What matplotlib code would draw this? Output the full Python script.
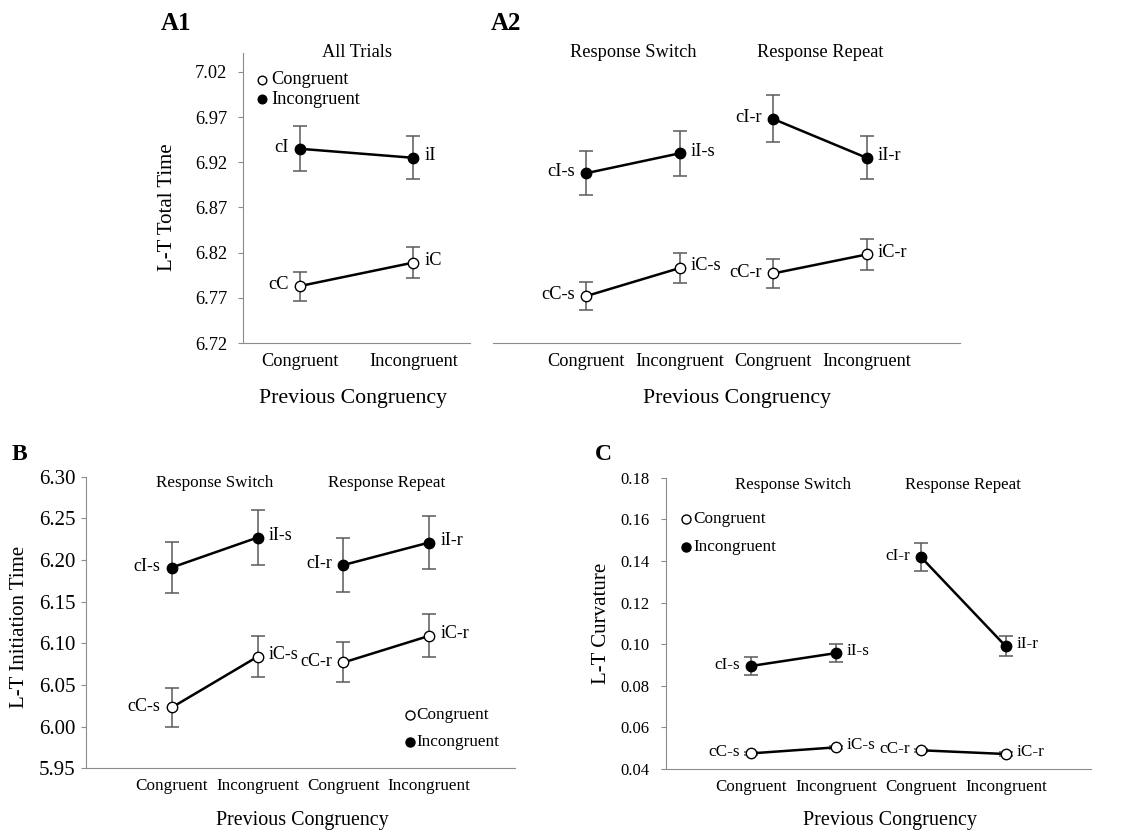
import matplotlib
matplotlib.use('Agg')
import matplotlib.pyplot as plt
from matplotlib.lines import Line2D

W, H = 1140, 833
plt.rcParams['font.family'] = ['Liberation Serif', 'DejaVu Serif']

categories = ['Congruent', 'Incongruent']

# A1 - all trials, L-T total time
a1_con = [6.783, 6.809]
a1_con_err = [0.016, 0.017]
a1_inc = [6.935, 6.925]
a1_inc_err = [0.025, 0.024]
a1_con_lab = ['cC', 'iC']
a1_inc_lab = ['cI', 'iI']

# A2 - switch / repeat, L-T total time
a2_sw_con = [6.772, 6.803]
a2_sw_con_err = [0.016, 0.017]
a2_rp_con = [6.797, 6.818]
a2_rp_con_err = [0.016, 0.017]
a2_sw_inc = [6.908, 6.930]
a2_sw_inc_err = [0.024, 0.025]
a2_rp_inc = [6.968, 6.925]
a2_rp_inc_err = [0.026, 0.024]

# B - L-T initiation time
b_sw_con = [6.023, 6.084]
b_sw_con_err = [0.023, 0.025]
b_rp_con = [6.077, 6.109]
b_rp_con_err = [0.024, 0.026]
b_sw_inc = [6.191, 6.227]
b_sw_inc_err = [0.031, 0.033]
b_rp_inc = [6.194, 6.221]
b_rp_inc_err = [0.032, 0.032]

# C - L-T curvature
c_sw_con = [0.0475, 0.0504]
c_sw_con_err = [0.0008, 0.0008]
c_rp_con = [0.0490, 0.0472]
c_rp_con_err = [0.0008, 0.0008]
c_sw_inc = [0.0895, 0.0957]
c_sw_inc_err = [0.0042, 0.0044]
c_rp_inc = [0.1419, 0.0989]
c_rp_inc_err = [0.0067, 0.0048]

sw_con_lab = ['cC-s', 'iC-s']
sw_inc_lab = ['cI-s', 'iI-s']
rp_con_lab = ['cC-r', 'iC-r']
rp_inc_lab = ['cI-r', 'iI-r']

a_yticks = [6.72, 6.77, 6.82, 6.87, 6.92, 6.97, 7.02]
b_yticks = [5.95, 6.00, 6.05, 6.10, 6.15, 6.20, 6.25, 6.30]
c_yticks = [0.04, 0.06, 0.08, 0.10, 0.12, 0.14, 0.16, 0.18]

SPINE = '#8c8c8c'

fig = plt.figure(figsize=(W / 100, H / 100), dpi=100)


def axes_px(left, top, right, bottom):
    return fig.add_axes([left / W, 1 - bottom / H, (right - left) / W, (bottom - top) / H])


def fig_xy(x, y):
    return x / W, 1 - y / H


def draw_pair(ax, xs, ys, errs, labels, filled, fs):
    ax.errorbar(xs, ys, yerr=errs, fmt='none', ecolor='#5a5a5a', elinewidth=1.1,
                capsize=5, capthick=1.1, zorder=2, clip_on=False)
    ax.plot(xs, ys, color='black', lw=1.8, marker='o', ms=7.5,
            mfc='black' if filled else 'white', mec='black', mew=1.0, zorder=3, clip_on=False)
    ax.annotate(labels[0], (xs[0], ys[0]), xytext=(-8, 1), textcoords='offset points',
                ha='right', va='center', fontsize=fs)
    ax.annotate(labels[1], (xs[1], ys[1]), xytext=(8, 1.5), textcoords='offset points',
                ha='left', va='center', fontsize=fs)


def style_axes(ax, yticks, ylim, xlim, xlabels, xfs, yfs, ypad, show_y=True):
    ax.set_xlim(xlim)
    ax.set_ylim(ylim)
    ax.set_xticks(range(len(xlabels)))
    ax.set_xticklabels(xlabels, fontsize=xfs)
    ax.tick_params(axis='x', length=0, pad=7)
    for s in ['top', 'right']:
        ax.spines[s].set_visible(False)
    ax.spines['bottom'].set_color(SPINE)
    ax.spines['left'].set_color(SPINE)
    if show_y:
        ax.set_yticks(yticks)
        ax.set_yticklabels(['{:.2f}'.format(v) for v in yticks], fontsize=yfs)
        ax.tick_params(axis='y', length=3.5, color=SPINE, pad=ypad)
    else:
        ax.spines['left'].set_visible(False)
        ax.set_yticks([])
    ax.patch.set_alpha(0)


def draw_key(x, y, dy, fs, ms, tx):
    for i, (name, face) in enumerate([('Congruent', 'white'), ('Incongruent', 'black')]):
        px, py = fig_xy(x, y + i * dy)
        fig.add_artist(Line2D([px], [py], marker='o', ms=ms, mfc=face, mec='black',
                              mew=1.0, ls='none', transform=fig.transFigure))
        fig.text(tx / W, py, name, ha='left', va='center', fontsize=fs)


# ---- A1
ax1 = axes_px(243, 53, 470, 343)
style_axes(ax1, a_yticks, (6.72, 7.041), (-0.5, 1.5), categories, 13.2, 13.2, 8)
draw_pair(ax1, [0, 1], a1_con, a1_con_err, a1_con_lab, False, 13.2)
draw_pair(ax1, [0, 1], a1_inc, a1_inc_err, a1_inc_lab, True, 13.2)
ax1.text(0.5, 1.0, 'All Trials', transform=ax1.get_xaxis_transform(),
         ha='center', va='center', fontsize=13.2)
draw_key(262, 80, 19, 13.2, 6.2, 271)

# ---- A2
ax2 = axes_px(493, 53, 960, 343)
style_axes(ax2, a_yticks, (6.72, 7.041), (-1, 4), categories * 2, 13.2, 13.2, 8, show_y=False)
draw_pair(ax2, [0, 1], a2_sw_con, a2_sw_con_err, sw_con_lab, False, 13.2)
draw_pair(ax2, [2, 3], a2_rp_con, a2_rp_con_err, rp_con_lab, False, 13.2)
draw_pair(ax2, [0, 1], a2_sw_inc, a2_sw_inc_err, sw_inc_lab, True, 13.2)
draw_pair(ax2, [2, 3], a2_rp_inc, a2_rp_inc_err, rp_inc_lab, True, 13.2)
ax2.text(0.5, 1.0, 'Response Switch', transform=ax2.get_xaxis_transform(),
         ha='center', va='center', fontsize=13.2)
ax2.text(2.5, 1.0, 'Response Repeat', transform=ax2.get_xaxis_transform(),
         ha='center', va='center', fontsize=13.2)

# ---- B
ax3 = axes_px(86, 476.7, 515, 768.3)
style_axes(ax3, b_yticks, (5.95, 6.30), (-1, 4), categories * 2, 12.3, 15, 4)
draw_pair(ax3, [0, 1], b_sw_con, b_sw_con_err, sw_con_lab, False, 13)
draw_pair(ax3, [2, 3], b_rp_con, b_rp_con_err, rp_con_lab, False, 13)
draw_pair(ax3, [0, 1], b_sw_inc, b_sw_inc_err, sw_inc_lab, True, 13)
draw_pair(ax3, [2, 3], b_rp_inc, b_rp_inc_err, rp_inc_lab, True, 13)
ax3.text(0.5, 0.978, 'Response Switch', transform=ax3.get_xaxis_transform(),
         ha='center', va='center', fontsize=12.3)
ax3.text(2.5, 0.978, 'Response Repeat', transform=ax3.get_xaxis_transform(),
         ha='center', va='center', fontsize=12.3)
draw_key(410, 715, 26.7, 12.3, 6.5, 416)

# ---- C
ax4 = axes_px(665.7, 477.7, 1091, 769)
style_axes(ax4, c_yticks, (0.04, 0.18), (-1, 4), categories * 2, 12.2, 12, 8)
draw_pair(ax4, [0, 1], c_sw_con, c_sw_con_err, sw_con_lab, False, 12.3)
draw_pair(ax4, [2, 3], c_rp_con, c_rp_con_err, rp_con_lab, False, 12.3)
draw_pair(ax4, [0, 1], c_sw_inc, c_sw_inc_err, sw_inc_lab, True, 12.3)
draw_pair(ax4, [2, 3], c_rp_inc, c_rp_inc_err, rp_inc_lab, True, 12.3)
ax4.text(0.5, 0.975, 'Response Switch', transform=ax4.get_xaxis_transform(),
         ha='center', va='center', fontsize=12.2)
ax4.text(2.5, 0.975, 'Response Repeat', transform=ax4.get_xaxis_transform(),
         ha='center', va='center', fontsize=12.2)
draw_key(685.7, 519, 28, 12.3, 6.5, 693)

# ---- figure-level labels
fig.text(*fig_xy(161, 23), 'A1', fontsize=18, fontweight='bold', ha='left', va='center')
fig.text(*fig_xy(491, 23), 'A2', fontsize=18, fontweight='bold', ha='left', va='center')
fig.text(*fig_xy(12, 455), 'B', fontsize=17, fontweight='bold', ha='left', va='center')
fig.text(*fig_xy(595, 455), 'C', fontsize=17, fontweight='bold', ha='left', va='center')

fig.text(*fig_xy(168, 207), 'L-T Total Time', fontsize=15, rotation=90, ha='center', va='center')
fig.text(*fig_xy(20, 627), 'L-T Initiation Time', fontsize=15, rotation=90, ha='center', va='center')
fig.text(*fig_xy(602, 623), 'L-T Curvature', fontsize=15, rotation=90, ha='center', va='center')

fig.text(*fig_xy(353, 398), 'Previous Congruency', fontsize=15.7, ha='center', va='center')
fig.text(*fig_xy(737, 398), 'Previous Congruency', fontsize=15.7, ha='center', va='center')
fig.text(*fig_xy(302, 820), 'Previous Congruency', fontsize=14.4, ha='center', va='center')
fig.text(*fig_xy(890, 820), 'Previous Congruency', fontsize=14.5, ha='center', va='center')

fig.savefig('out.png', dpi=100)
